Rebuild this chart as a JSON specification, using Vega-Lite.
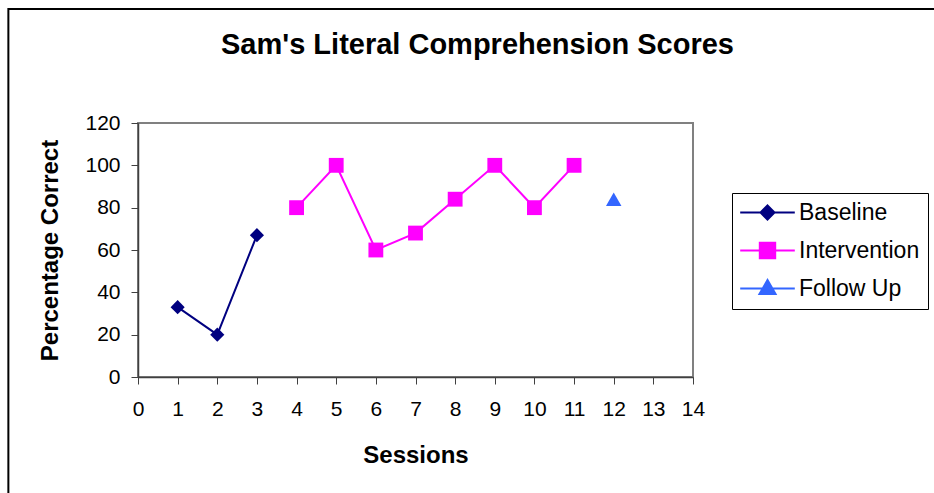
{
  "$schema": "https://vega.github.io/schema/vega-lite/v6.json",
  "width": 555,
  "height": 254,
  "autosize": {"type": "none"},
  "padding": {"left": 138, "top": 123, "right": 241, "bottom": 116},
  "background": "white",
  "config": {
    "font": "Liberation Sans",
    "view": {"stroke": "#808080", "strokeWidth": 2},
    "axis": {
      "grid": false,
      "labelFont": "Liberation Sans",
      "labelFontSize": 21,
      "labelColor": "black",
      "titleFont": "Liberation Sans",
      "titleFontSize": 24,
      "titleFontWeight": "bold",
      "titleColor": "black",
      "domainColor": "#404040",
      "domainWidth": 1.5,
      "tickColor": "#404040",
      "tickSize": 7,
      "labelOverlap": false,
      "labelFlush": false
    },
    "axisX": {"labelPadding": 14, "titlePadding": 24},
    "axisY": {"labelPadding": 11, "titlePadding": 22},
    "legend": {
      "labelFont": "Liberation Sans",
      "labelFontSize": 23,
      "labelColor": "black"
    }
  },
  "title": {
    "text": "Sam's Literal Comprehension Scores",
    "font": "Liberation Sans",
    "fontSize": 29,
    "fontWeight": "bold",
    "color": "black",
    "anchor": "middle",
    "dx": 62,
    "offset": -52
  },
  "resolve": {"legend": {"color": "independent"}},
  "data": {
    "values": [
      {"session": 1, "score": 33, "series": "Baseline"},
      {"session": 2, "score": 20, "series": "Baseline"},
      {"session": 3, "score": 67, "series": "Baseline"},
      {"session": 4, "score": 80, "series": "Intervention"},
      {"session": 5, "score": 100, "series": "Intervention"},
      {"session": 6, "score": 60, "series": "Intervention"},
      {"session": 7, "score": 68, "series": "Intervention"},
      {"session": 8, "score": 84, "series": "Intervention"},
      {"session": 9, "score": 100, "series": "Intervention"},
      {"session": 10, "score": 80, "series": "Intervention"},
      {"session": 11, "score": 100, "series": "Intervention"},
      {"session": 12, "score": 84, "series": "Follow Up"}
    ]
  },
  "layer": [
    {
      "data": {"values": [{"frame": 1}]},
      "mark": {"type": "rect", "fill": "transparent", "stroke": "black", "strokeWidth": 2, "clip": false},
      "encoding": {
        "x": {"datum": -3.27, "type": "quantitative", "scale": {"domain": [0, 14]}, "axis": {"title": "Sessions", "values": [0,1,2,3,4,5,6,7,8,9,10,11,12,13,14]}},
        "x2": {"datum": 20.5},
        "y": {"datum": 173.9, "type": "quantitative", "scale": {"domain": [0, 120]}, "axis": {"title": "Percentage Correct", "values": [0,20,40,60,80,100,120]}},
        "y2": {"datum": -60}
      }
    },
    {
      "mark": {"type": "line", "strokeWidth": 2},
      "encoding": {
        "x": {"field": "session", "type": "quantitative", "scale": {"domain": [0, 14]}, "axis": {"title": "Sessions", "values": [0,1,2,3,4,5,6,7,8,9,10,11,12,13,14]}},
        "y": {"field": "score", "type": "quantitative", "scale": {"domain": [0, 120]}, "axis": {"title": "Percentage Correct", "values": [0,20,40,60,80,100,120]}},
        "color": {
          "field": "series",
          "type": "nominal",
          "scale": {"domain": ["Baseline", "Intervention", "Follow Up"], "range": ["#000080", "#FF00FF", "#3366FF"]},
          "legend": {
            "title": null,
            "orient": "none",
            "legendX": 594,
            "legendY": 70,
            "strokeColor": "black",
            "padding": 8,
            "rowPadding": 13,
            "symbolSize": 196,
            "symbolStrokeWidth": 2,
            "symbolOffset": 16,
            "labelOffset": 20,
            "encode": {
              "symbols": {
                "update": {
                  "shape": {"signal": "datum.value == 'Baseline' ? 'M-3.9,0H3.9M0,-1L1,0L0,1L-1,0Z' : datum.value == 'Intervention' ? 'M-3.9,0H3.9M-1.1,-1.1H1.1V1.1H-1.1Z' : 'M-3.9,0H3.9M0,-1.2L1.15,0.8H-1.15Z'"},
                  "stroke": {"signal": "datum.value == 'Baseline' ? '#000080' : datum.value == 'Intervention' ? '#FF00FF' : '#3366FF'"},
                  "fill": {"signal": "datum.value == 'Baseline' ? '#000080' : datum.value == 'Intervention' ? '#FF00FF' : '#3366FF'"},
                  "strokeWidth": {"value": 2},
                  "opacity": {"value": 1}
                }
              }
            }
          }
        }
      }
    },
    {
      "mark": {"type": "point", "filled": true, "opacity": 1},
      "encoding": {
        "x": {"field": "session", "type": "quantitative", "scale": {"domain": [0, 14]}, "axis": {"title": "Sessions", "values": [0,1,2,3,4,5,6,7,8,9,10,11,12,13,14]}},
        "y": {"field": "score", "type": "quantitative", "scale": {"domain": [0, 120]}, "axis": {"title": "Percentage Correct", "values": [0,20,40,60,80,100,120]}},
        "color": {
          "field": "series",
          "type": "nominal",
          "scale": {"domain": ["Baseline", "Intervention", "Follow Up"], "range": ["#000080", "#FF00FF", "#3366FF"]},
          "legend": null
        },
        "shape": {
          "field": "series",
          "type": "nominal",
          "scale": {"domain": ["Baseline", "Intervention", "Follow Up"], "range": ["diamond", "square", "triangle-up"]},
          "legend": null
        },
        "size": {
          "field": "series",
          "type": "nominal",
          "scale": {"domain": ["Baseline", "Intervention", "Follow Up"], "range": [200, 240, 250]},
          "legend": null
        }
      }
    }
  ]
}
